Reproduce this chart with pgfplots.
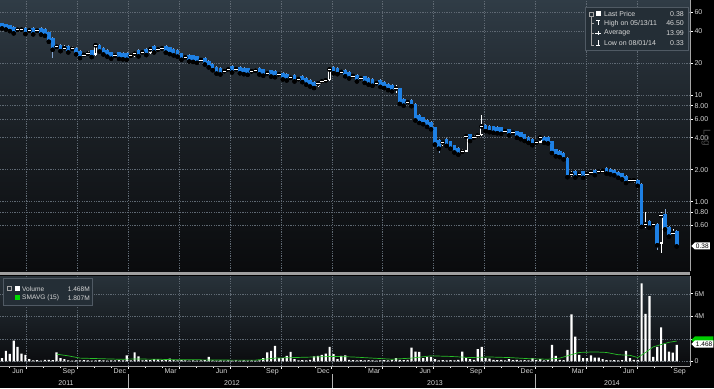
\documentclass[border=0pt]{standalone}
\usepackage{fontspec}
\setmainfont{Liberation Sans}
\usepackage{pgfplots}
\pgfplotsset{compat=1.18}
\usepackage{pgfplotstable}
\usetikzlibrary{shapes.symbols}

\definecolor{cblue}{RGB}{30,128,228}
\definecolor{wickblue}{RGB}{130,165,210}
\definecolor{bgtop}{RGB}{48,60,70}
\definecolor{bgmid}{RGB}{25,30,35}
\definecolor{bgbot}{RGB}{10,11,13}
\definecolor{vtop}{RGB}{40,50,58}
\definecolor{gridc}{RGB}{95,105,115}
\definecolor{legbg}{RGB}{36,46,54}
\definecolor{legbd}{RGB}{80,90,100}
\definecolor{innerc}{RGB}{22,26,30}
\definecolor{smag}{RGB}{40,190,40}
\definecolor{labc}{RGB}{215,215,215}

\pgfplotstableread{
k o c h l
0 47.5 42.5 0 999
1 46.5 41.5 0 999
2 45.5 40.1 0 999
3 44.0 38.2 0 999
4 40.3 41.3 42.5 999
5 40.5 41.5 42.5 999
6 43.0 37.7 0 999
7 39.5 40.6 41.8 999
8 43.0 37.4 0 999
9 39.4 40.4 41.5 999
10 43.0 37.2 0 999
11 42.0 36.3 0 999
12 39.0 31.9 0 999
13 34.5 26.8 0 22.2
14 27.8 28.6 30.0 999
15 29.9 26.0 0 999
16 27.0 27.8 30.0 999
17 29.2 25.3 0 999
18 26.6 27.4 29.0 999
19 28.0 24.3 0 999
20 26.0 22.4 0 22.0
21 23.3 24.0 25.0 999
22 23.9 24.6 26.0 999
23 26.4 22.9 0 999
24 24.0 29.5 29.8 999
25 29.7 25.8 0 999
26 27.8 24.2 0 999
27 26.6 23.1 0 999
28 25.4 22.1 0 999
29 22.8 23.5 24.5 999
30 25.3 22.0 0 999
31 25.1 21.8 0 999
32 24.9 21.6 0 999
33 22.8 23.5 24.0 999
34 23.5 24.6 25.5 999
35 26.7 23.2 0 999
36 24.5 25.3 26.0 999
37 27.5 23.9 0 999
38 25.0 27.0 27.8 999
39 29.1 25.3 0 999
40 26.1 26.9 28.0 999
41 26.8 27.6 28.5 999
42 29.0 25.2 0 999
43 28.2 24.4 0 999
44 27.3 23.7 0 999
45 26.6 23.1 0 999
46 24.8 21.6 0 999
47 22.0 22.7 23.5 999
48 24.0 20.8 0 999
49 23.8 20.6 0 999
50 23.3 20.2 0 999
51 20.9 21.5 22.3 999
52 22.4 19.5 0 999
53 21.1 18.3 0 999
54 19.8 17.2 0 999
55 18.5 16.0 0 999
56 18.0 15.7 0 999
57 16.4 16.9 17.6 999
58 16.9 17.5 18.0 999
59 18.9 16.4 0 999
60 17.1 17.6 18.2 999
61 18.6 16.1 0 999
62 18.1 15.8 0 999
63 17.9 15.6 0 999
64 16.3 16.8 17.3 999
65 16.5 17.0 17.5 999
66 18.0 15.7 0 999
67 17.6 15.3 0 999
68 15.6 16.1 16.6 999
69 17.2 15.0 0 999
70 17.0 14.8 0 999
71 15.2 15.7 16.2 999
72 16.3 14.1 0 999
73 15.9 13.8 0 999
74 14.2 14.6 15.1 999
75 15.5 13.5 0 999
76 13.8 14.2 14.6 999
77 15.3 13.3 0 999
78 14.5 12.6 0 999
79 14.0 12.1 0 999
80 13.4 11.7 0 11.4
81 12.2 12.9 13.3 999
82 12.9 13.5 14.0 999
83 13.4 13.8 14.3 999
84 13.8 17.5 17.8 999
85 18.5 16.1 0 999
86 18.1 15.8 0 999
87 16.1 16.6 17.3 999
88 17.4 15.1 0 999
89 16.6 14.4 0 999
90 14.8 15.2 16.0 999
91 15.5 13.5 0 999
92 13.9 14.4 14.8 999
93 15.1 13.1 0 999
94 14.5 12.6 0 999
95 14.2 12.3 0 999
96 12.6 13.0 13.5 999
97 13.9 12.0 0 999
98 13.4 11.7 0 999
99 12.9 11.2 0 999
100 12.5 10.9 0 999
101 11.3 11.6 12.5 10.6
102 11.6 8.3 0 999
103 9.2 8.0 0 999
104 8.3 8.6 8.9 999
105 9.1 7.9 0 999
106 8.3 5.8 0 999
107 6.6 5.5 0 999
108 6.2 5.35 0 999
109 5.9 5.05 0 999
110 5.6 4.8 5.6 999
111 5.0 3.45 0 999
112 3.8 3.15 0 2.9
113 3.4 3.6 3.8 999
114 3.9 3.35 0 999
115 3.7 3.15 0 999
116 3.4 2.9 0 999
117 3.2 2.77 0 999
118 2.85 2.95 3.1 2.8
119 2.95 4.1 4.2 999
120 4.3 3.72 0 999
121 3.9 4.0 4.2 999
122 4.0 4.2 4.4 999
123 4.2 5.1 6.6 999
124 5.3 4.6 0 999
125 5.2 4.5 0 999
126 5.1 4.45 0 999
127 5.05 4.4 0 999
128 5.0 4.35 0 999
129 4.45 4.6 4.8 999
130 4.8 4.2 0 999
131 4.35 4.45 4.6 999
132 4.6 4.0 0 999
133 4.5 3.87 0 999
134 4.3 3.72 0 999
135 4.1 3.58 0 999
136 3.9 3.4 0 999
137 3.5 3.6 3.8 999
138 3.6 4.0 4.1 999
139 4.1 3.58 0 999
140 4.05 3.53 0 999
141 3.7 2.87 0 999
142 3.1 2.67 0 999
143 3.0 2.63 0 999
144 2.9 2.5 0 999
145 2.6 1.7 0 1.64
146 1.76 1.82 1.95 1.7
147 1.95 1.69 0 999
148 1.75 1.80 1.9 999
149 1.93 1.68 0 999
150 1.78 1.82 1.9 999
151 1.84 1.88 1.95 999
152 2.0 1.78 0 999
153 1.88 1.92 1.98 999
154 1.92 1.95 1.98 999
155 2.08 1.84 0 999
156 2.05 1.81 0 999
157 2.0 1.77 0 999
158 1.92 1.68 0 999
159 1.85 1.62 0 999
160 1.75 1.5 0 999
161 1.55 1.58 1.65 1.5
162 1.56 1.59 1.65 1.5
163 1.6 1.41 0 999
164 1.47 0.58 0 999
165 0.59 0.61 0.80 0.57
166 0.66 0.57 0 999
167 0.60 0.61 0.65 999
168 0.62 0.39 0 0.35
169 0.40 0.74 0.80 0.33
170 0.77 0.55 0.86 999
171 0.58 0.47 0 999
172 0.49 0.51 0.56 999
173 0.53 0.38 0 999
}\candles

\pgfplotstableread{
k v
0 0.3
1 0.94
2 0.67
3 1.84
4 1.3
5 0.7
6 0.58
7 0.22
8 0.1
9 0.12
10 0.08
11 0.15
12 0.15
13 0.12
14 0.8
15 0.3
16 0.2
17 0.1
18 0.08
19 0.1
20 0.1
21 0.12
22 0.1
23 0.08
24 0.1
25 0.12
26 0.1
27 0.08
28 0.1
29 0.1
30 0.12
31 0.1
32 0.55
33 0.1
34 0.8
35 0.45
36 0.1
37 0.15
38 0.12
39 0.2
40 0.18
41 0.12
42 0.2
43 0.25
44 0.15
45 0.1
46 0.12
47 0.1
48 0.08
49 0.1
50 0.08
51 0.1
52 0.12
53 0.4
54 0.1
55 0.08
56 0.1
57 0.08
58 0.1
59 0.08
60 0.1
61 0.08
62 0.1
63 0.08
64 0.1
65 0.08
66 0.1
67 0.3
68 0.8
69 0.94
70 1.39
71 0.3
72 0.3
73 0.5
74 0.85
75 0.2
76 0.1
77 0.12
78 0.1
79 0.15
80 0.45
81 0.5
82 0.58
83 0.7
84 1.3
85 0.65
86 0.2
87 0.5
88 0.55
89 0.15
90 0.12
91 0.1
92 0.12
93 0.1
94 0.12
95 0.1
96 0.08
97 0.1
98 0.12
99 0.1
100 0.15
101 0.3
102 0.15
103 0.12
104 0.15
105 1.24
106 0.88
107 0.85
108 0.3
109 0.4
110 0.4
111 0.2
112 0.1
113 0.12
114 0.1
115 0.12
116 0.1
117 0.15
118 0.88
119 0.3
120 0.2
121 0.15
122 1.1
123 1.3
124 0.3
125 0.25
126 0.15
127 0.12
128 0.15
129 0.1
130 0.2
131 0.12
132 0.15
133 0.1
134 0.12
135 0.1
136 0.3
137 0.12
138 0.2
139 0.1
140 0.12
141 1.48
142 0.5
143 0.15
144 0.12
145 1.03
146 4.17
147 2.2
148 0.58
149 0.3
150 0.3
151 0.55
152 0.35
153 0.35
154 0.2
155 0.12
156 0.1
157 0.12
158 0.1
159 0.12
160 0.94
161 0.3
162 0.15
163 0.15
164 6.92
165 4.23
166 5.8
167 0.4
168 1.3
169 3.03
170 1.54
171 0.88
172 0.79
173 1.47
}\vol

\begin{document}
\begin{tikzpicture}
\useasboundingbox (0pt,0pt) rectangle (714pt,388pt);
\fill[black] (0pt,0pt) rectangle (714pt,388pt);

% ---------------- price panel
\begin{scope}[shift={(0pt,117pt)}]
\begin{axis}[
  name=price, anchor=south west, at={(0pt,0pt)},
  scale only axis, width=690pt, height=271pt,
  xmin=-0.5128, xmax=176.41,
  ymode=log, ymin=0.2234, ymax=78.7,
  axis background/.style={top color=bgtop, bottom color=bgbot, middle color=bgmid},
  axis x line*=bottom, axis y line*=right,
  x axis line style={draw=none},
  y axis line style={draw=gray!70, line width=0.8pt},
  xtick=\empty,
  extra x ticks={6.275,19.325,32.375,45.425,58.475,71.525,84.575,97.625,110.675,123.725,136.775,149.825,162.875},
  extra x tick labels={},
  extra x tick style={grid=major, major tick length=0pt},
  ytick={0.6,0.8,1,2,4,6,8,10,20,40,60},
  yticklabels={0.60,0.80,1.00,2.00,4.00,6.00,8.00,10,20,40,60},
  ymajorgrids,
  grid style={gridc, line width=0.5pt, dash pattern=on 1.2pt off 1.2pt},
  tick align=outside, major tick length=2.5pt,
  tick style={white, line width=0.7pt},
  yticklabel style={font=\fontsize{7}{8}\selectfont, text=labc, anchor=west, xshift=-1.5pt},
]
% blue (down) candles
\addplot[only marks, mark=none,
  restrict expr to domain={\thisrow{o}-\thisrow{c}}{0.000001:1000},
  error bars/.cd, y dir=both, y explicit, error mark=none,
  error bar style={wickblue, line width=0.6pt}]
  table[x=k, y=c,
   y error plus expr={max(\thisrow{h},1.015*max(\thisrow{o},\thisrow{c}))-\thisrow{c}},
   y error minus expr={\thisrow{c}-min(\thisrow{l},min(\thisrow{o},\thisrow{c})/1.015)}] {\candles};
\addplot[only marks, mark=none,
  restrict expr to domain={\thisrow{o}-\thisrow{c}}{0.000001:1000},
  error bars/.cd, y dir=both, y explicit, error mark=none,
  error bar style={cblue, line width=3.7pt, line cap=butt}]
  table[x=k, y=c, y error plus expr={\thisrow{o}-\thisrow{c}}, y error minus expr={0}] {\candles};
% white (up) candles
\addplot[only marks, mark=none,
  restrict expr to domain={\thisrow{c}-\thisrow{o}}{0:1000},
  error bars/.cd, y dir=both, y explicit, error mark=none,
  error bar style={white, line width=0.6pt}]
  table[x=k, y=c,
   y error plus expr={max(\thisrow{h},1.015*max(\thisrow{o},\thisrow{c}))-\thisrow{c}},
   y error minus expr={\thisrow{c}-min(\thisrow{l},min(\thisrow{o},\thisrow{c})/1.015)}] {\candles};
\addplot[only marks, mark=none,
  restrict expr to domain={\thisrow{c}-\thisrow{o}}{0:1000},
  error bars/.cd, y dir=both, y explicit, error mark=none,
  error bar style={white, line width=3.2pt, line cap=butt}]
  table[x=k, y=c, y error plus expr={0}, y error minus expr={\thisrow{c}-\thisrow{o}}] {\candles};
% hollow interior only for the taller up candles
\addplot[only marks, mark=none,
  restrict expr to domain={\thisrow{c}/\thisrow{o}}{1.09:100},
  error bars/.cd, y dir=both, y explicit, error mark=none,
  error bar style={innerc, line width=1.6pt, line cap=butt}]
  table[x=k, y=c, y error plus expr={-0.02*\thisrow{c}}, y error minus expr={0.985*\thisrow{c}-1.015*\thisrow{o}}] {\candles};
\addplot[only marks, mark=-, mark size=1.7pt, white, mark options={line width=0.7pt},
  restrict expr to domain={\thisrow{c}-\thisrow{o}}{0:1000}]
  table[x=k, y=c] {\candles};
\end{axis}
\end{scope}

% separator band
\fill[gray!75] (0pt,113pt) rectangle (690pt,116pt);

% ---------------- volume panel
\begin{scope}[shift={(0pt,22pt)}]
\begin{axis}[
  name=volume, anchor=south west, at={(0pt,0pt)},
  scale only axis, width=690pt, height=90pt,
  xmin=-0.5128, xmax=176.41, ymin=-0.4, ymax=7.58,
  axis background/.style={top color=vtop, bottom color=bgbot},
  axis x line*=bottom, axis y line*=right,
  axis line style={draw=gray!70, line width=0.8pt},
  xtick={6.275,19.325,32.375,45.425,58.475,71.525,84.575,97.625,110.675,123.725,136.775,149.825,162.875},
  xticklabels={},
  minor xtick={1.925,10.625,14.975,23.675,28.025,36.725,41.075,49.775,54.125,62.825,67.175,75.875,80.225,88.925,93.275,101.975,106.325,115.025,119.375,128.075,132.425,141.125,145.475,154.175,158.525,167.225,171.575},
  minor tick length=2pt,
  xmajorgrids, ymajorgrids,
  grid style={gridc, line width=0.5pt, dash pattern=on 1.2pt off 1.2pt},
  extra x ticks={4.1,17.15,30.2,43.25,56.3,69.35,82.4,95.45,108.5,121.55,134.6,147.65,160.7,173.75},
  extra x tick labels={Jun,Sep,Dec,Mar,Jun,Sep,Dec,Mar,Jun,Sep,Dec,Mar,Jun,Sep},
  extra x tick style={grid=none, major tick length=0pt},
  xticklabel style={font=\fontsize{7}{8}\selectfont, text=labc, inner sep=1pt, yshift=-1pt},
  ytick={0,2,4,6}, yticklabels={0,,4M,6M},
  tick align=outside, major tick length=2.5pt,
  tick style={white, line width=0.7pt},
  yticklabel style={font=\fontsize{7}{8}\selectfont, text=labc, anchor=west, xshift=-1.5pt},
]
\addplot[ybar, bar width=2.2pt, fill=white, draw=none] table[x=k, y=v] {\vol};
\addplot[smag, line width=0.7pt] coordinates {
(14,0.65) (17,0.5) (20,0.3) (25,0.25) (30,0.2) (35,0.22) (40,0.2) (45,0.15)
(50,0.15) (55,0.13) (60,0.12) (65,0.12) (70,0.3) (75,0.35) (80,0.4) (85,0.45)
(90,0.4) (95,0.3) (100,0.2) (105,0.3) (110,0.5) (115,0.45) (120,0.35) (125,0.4)
(130,0.35) (135,0.25) (140,0.2) (143,0.3) (146,0.6) (148,0.8) (152,0.85) (155,0.8)
(158,0.6) (161,0.55) (163,0.35) (165,0.8) (167,1.3) (169,1.5) (171,1.7) (173,1.81)};
\end{axis}
\end{scope}

% year labels and separators
\foreach \xx in {128.3,331.8,535.4} {\draw[gray!60, line width=0.6pt] (\xx pt,0pt) -- (\xx pt,14pt);}
\node[font=\fontsize{7}{8}\selectfont, text=labc] at (66pt,5pt) {2011};
\node[font=\fontsize{7}{8}\selectfont, text=labc] at (232pt,5pt) {2012};
\node[font=\fontsize{7}{8}\selectfont, text=labc] at (435pt,5pt) {2013};
\node[font=\fontsize{7}{8}\selectfont, text=labc] at (612pt,5pt) {2014};

% price legend
\fill[legbg] (585pt,338pt) rectangle (688pt,381pt);
\draw[legbd, line width=0.6pt] (585pt,338pt) rectangle (688pt,381pt);
\draw[gray!70, line width=0.5pt] (591pt,371pt) -- (591pt,343pt) -- (594pt,343pt);
\draw[gray!70, line width=0.5pt] (591pt,365pt) -- (594pt,365pt) (591pt,355pt) -- (594pt,355pt);
\draw[gray!70, line width=0.5pt] (589pt,372pt) rectangle (593pt,376pt);
\fill[white] (595.5pt,371.5pt) rectangle (600.5pt,376.5pt);
\draw[white, line width=0.7pt] (596pt,367.5pt) -- (600pt,367.5pt) (598pt,367.5pt) -- (598pt,362.5pt);
\draw[white, line width=0.7pt] (595pt,355pt) -- (601pt,355pt) (598pt,357pt) -- (598pt,353pt);
\draw[white, line width=0.7pt] (598pt,347.5pt) -- (598pt,342.5pt) (596pt,342.5pt) -- (600pt,342.5pt);
\begin{scope}[every node/.style={font=\fontsize{7}{8}\selectfont, text=labc, inner sep=0pt}]
\node[anchor=west] at (604pt,374pt) {Last Price};
\node[anchor=west] at (604pt,364.5pt) {High on 05/13/11};
\node[anchor=west] at (604pt,355pt) {Average};
\node[anchor=west] at (604pt,345pt) {Low on 08/01/14};
\node[anchor=east] at (684pt,374pt) {0.38};
\node[anchor=east] at (684pt,364.5pt) {46.50};
\node[anchor=east] at (684pt,355pt) {13.99};
\node[anchor=east] at (684pt,345pt) {0.33};
\end{scope}

% volume legend
\fill[legbg] (3pt,83pt) rectangle (92pt,110pt);
\draw[legbd, line width=0.6pt] (3pt,83pt) rectangle (92pt,110pt);
\draw[gray!70, line width=0.5pt] (7pt,98pt) rectangle (11pt,102pt);
\fill[white] (14.5pt,96.5pt) rectangle (19.5pt,101.5pt);
\fill[green!85!black] (14.5pt,87.5pt) rectangle (19.5pt,92.5pt);
\begin{scope}[every node/.style={font=\fontsize{6.6}{8}\selectfont, text=labc, inner sep=0pt}]
\node[anchor=west] at (22pt,99pt) {Volume};
\node[anchor=west] at (22pt,90pt) {SMAVG (15)};
\node[anchor=east] at (90pt,99pt) {1.468M};
\node[anchor=east] at (90pt,90pt) {1.807M};
\end{scope}

% right side value tags
\node[signal, signal to=west, fill=white, text=black, font=\fontsize{6.5}{7}\selectfont, inner sep=1.2pt, anchor=west] at (691pt,142pt) {0.38};
\node[signal, signal to=west, fill=green!80!black, font=\fontsize{6.5}{7}\selectfont, inner sep=1.2pt, anchor=west] at (691pt,48pt) {\phantom{1.807}};
\node[signal, signal to=west, fill=white, text=black, font=\fontsize{6.5}{7}\selectfont, inner sep=1.2pt, anchor=west] at (691pt,44pt) {1.468};

% Log watermark
\node[rotate=-90, text=gray!60!black, font=\fontsize{10}{10}\selectfont] at (706pt,250pt) {Log};
\end{tikzpicture}
\end{document}
